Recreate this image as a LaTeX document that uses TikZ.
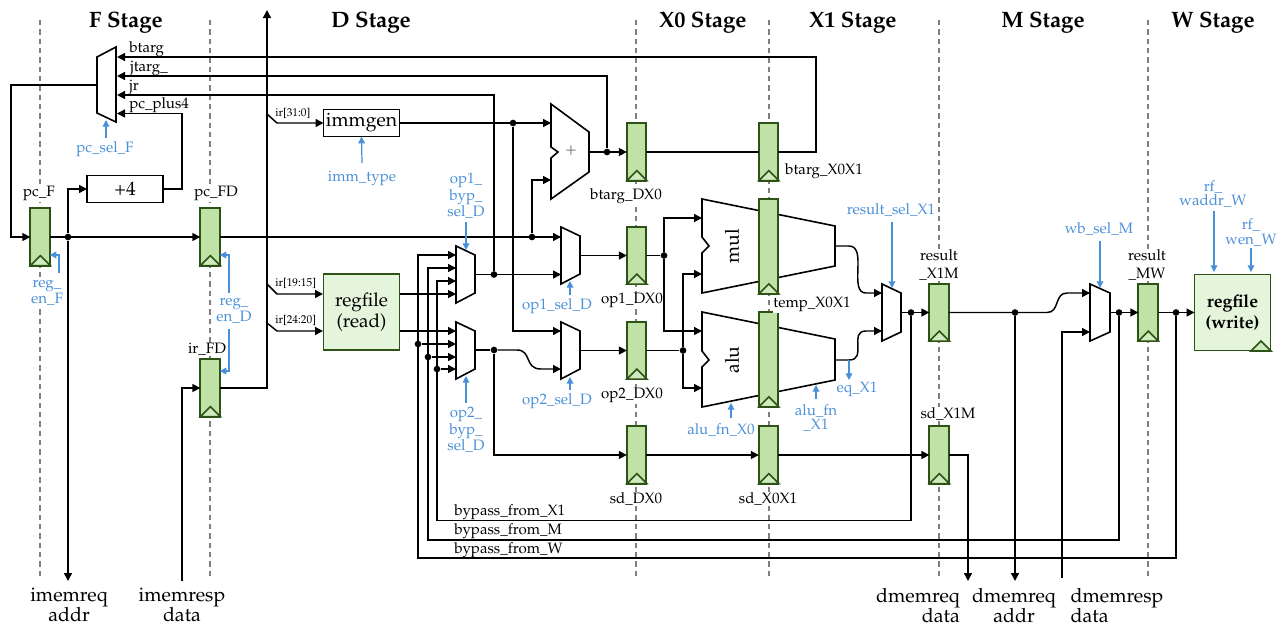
\documentclass[tikz,border=0pt]{standalone}
\usepackage[T1]{fontenc}
\usepackage{mathpazo}
\usetikzlibrary{arrows.meta}
\definecolor{regfill}{RGB}{192,226,167}
\definecolor{regline}{RGB}{44,82,22}
\definecolor{rffill}{RGB}{228,245,220}
\definecolor{ctrlblue}{RGB}{74,144,217}
\tikzset{
  wire/.style={line width=1.1pt},
  stagegrid/.style={gray,line width=0.9pt,dash pattern=on 4pt off 3pt},
  muxbox/.style={draw,fill=white,line width=1.2pt,line join=miter},
  reg/.style={draw=regline,fill=regfill,line width=1.4pt,minimum width=14.5pt,minimum height=43pt,inner sep=0,outer sep=0},
  tallreg/.style={reg,minimum height=71pt},
  clkmark/.style={draw=regline,fill=regfill!75!white,line width=1.2pt},
  rfbox/.style={draw=regline,fill=rffill,line width=1.3pt,minimum width=57pt,minimum height=57pt,inner sep=0,outer sep=0,align=center,font=\fontsize{14.2}{16}\selectfont},
  unitbox/.style={draw,fill=white,line width=1.2pt,minimum width=57pt,minimum height=20.5pt,inner sep=0,outer sep=0,font=\fontsize{14.5}{16}\selectfont},
  dot/.style={circle,fill=black,inner sep=0,minimum size=5pt},
  stagetext/.style={yshift=-1.2pt,font=\fontsize{16.7}{18}\selectfont\bfseries},
  sigtext/.style={yshift=-1.2pt,inner sep=0,font=\fontsize{11.3}{14}\selectfont},
  regtext/.style={sigtext,fill=white,inner sep=0.5pt,align=center},
  tinytext/.style={yshift=-0.6pt,inner sep=0,font=\fontsize{8.5}{10}\selectfont},
  ctrl/.style={yshift=-1.2pt,inner sep=0,text=ctrlblue,align=center,font=\fontsize{11.3}{11}\selectfont},
  ctrlwire/.style={draw=ctrlblue,line width=0.9pt,-{Triangle[length=5pt,width=5pt]}},
  memtext/.style={inner sep=0,font=\fontsize{14.7}{15}\selectfont},
}
\begin{document}
\begin{tikzpicture}[x=0.75pt,y=-0.75pt,>={Triangle[length=6pt,width=6pt]}]
\useasboundingbox (0,0) rectangle (1281,626);

% Stage boundaries
\foreach \x in {40,210,636,769,939,1148}
  \draw[stagegrid] (\x,20) -- (\x,578);

% Stage names
\node[stagetext] (stF) at (126,21) {F Stage};
\node[stagetext] (stD) at (371,21) {D Stage};
\node[stagetext] (stXa) at (703,21) {X0 Stage};
\node[stagetext] (stXb) at (853,21) {X1 Stage};
\node[stagetext] (stM) at (1043,21) {M Stage};
\node[stagetext] (stW) at (1213,21) {W Stage};

% Multiplier and alu, under the pipeline registers
\draw[muxbox] (702,199) -- (835,226) -- (835,266) -- (702,293) -- (702,253) -- (709,246) -- (702,237) -- cycle;
\draw[muxbox] (702,312) -- (835,339) -- (835,380) -- (702,407) -- (702,367) -- (709,360) -- (702,351) -- cycle;
\node[rotate=90,inner sep=0,font=\fontsize{14.5}{16}\selectfont] (mul) at (732,246) {mul};
\node[rotate=90,inner sep=0,font=\fontsize{14.5}{16}\selectfont] (alu) at (732,360) {alu};

% Adder
\draw[muxbox] (551,104) -- (589,132) -- (589,172) -- (551,199) -- (551,158) -- (558,152) -- (551,147) -- cycle;
\node[inner sep=0,text=gray,font=\fontsize{14}{15}\selectfont] (addplus) at (571,151) {+};

% Muxes
\draw[muxbox] (97,57) -- (116,47) -- (116,122) -- (97,113) -- cycle;
\draw[muxbox] (456,246) -- (475,255) -- (475,293) -- (456,303) -- cycle;
\draw[muxbox] (456,322) -- (475,331) -- (475,369) -- (456,379) -- cycle;
\draw[muxbox] (561,227) -- (580,236) -- (580,274) -- (561,284) -- cycle;
\draw[muxbox] (561,322) -- (580,331) -- (580,369) -- (561,379) -- cycle;
\draw[muxbox] (882,284) -- (901,293) -- (901,332) -- (882,341) -- cycle;
\draw[muxbox] (1090,284) -- (1110,293) -- (1110,332) -- (1090,341) -- cycle;

% Pipeline registers
\node[reg] (pcF) at (40,237) {};
\node[reg] (pcFD) at (210,237) {};
\node[reg] (irFD) at (210,388) {};
\node[reg] (btargDX) at (636.5,152) {};
\node[reg] (btargXX) at (768.5,152) {};
\node[reg] (opaDX) at (636.5,255.5) {};
\node[reg] (opbDX) at (636.5,350.5) {};
\node[reg] (sdDX) at (636.5,455) {};
\node[reg] (sdXX) at (768.5,455) {};
\node[tallreg] (tempa) at (768.5,246.5) {};
\node[tallreg] (tempb) at (768.5,359.5) {};
\node[reg] (resultXM) at (939,312.5) {};
\node[reg] (sdXM) at (939,455) {};
\node[reg] (resultMW) at (1148,312.5) {};

% Other units
\node[unitbox] (plusfour) at (125,189) {+4};
\node[unitbox] (immgen) at (361.5,123) {immgen};
\node[rfbox] (rfread) at (361.5,312) {regfile\\(read)};
\node[rfbox,font=\fontsize{13.3}{16}\selectfont\bfseries] (rfwrite) at (1232.5,312.5) {regfile\\(write)};

% Register names
\node[regtext] (lpcF) at (39,192) {pc\_F};
\node[regtext] (lpcFD) at (216,192) {pc\_FD};
\node[regtext] (lirFD) at (207,348) {ir\_FD};
\node[regtext] (lbtargDX) at (626,195) {btarg\_DX0};
\node[regtext] (lopaDX) at (632,299) {op1\_DX0};
\node[regtext] (lopbDX) at (632,394) {op2\_DX0};
\node[regtext] (lsdDX) at (636,497) {sd\_DX0};
\node[regtext] (lsdXX) at (768,497) {sd\_X0X1};
\node[regtext] (lbtargXX) at (824,170) {btarg\_X0X1};
\node[regtext] (ltemp) at (812,303) {temp\_X0X1};
\node[regtext] (lresultXM) at (939,263.5) {result\\\_X1M};
\node[regtext] (lsdXM) at (948,412) {sd\_X1M};
\node[regtext] (lresultMW) at (1147,263.5) {result\\\_MW};

% Signal names
\node[sigtext,anchor=west] (lbtarg) at (129,48) {btarg};
\node[sigtext,anchor=west] (ljtarg) at (130,67) {jtarg\_};
\node[sigtext,anchor=west] (ljr) at (129,86) {jr};
\node[sigtext,anchor=west] (lplus) at (129,104) {pc\_plus4};
\node[tinytext,anchor=west] (lira) at (275,113) {ir[31:0]};
\node[tinytext,anchor=west] (lirb) at (275,283) {ir[19:15]};
\node[tinytext,anchor=west] (lirc) at (275,320) {ir[24:20]};
\node[sigtext,anchor=west] (lbyX) at (454,511) {bypass\_from\_X1};
\node[sigtext,anchor=west] (lbyM) at (454,530) {bypass\_from\_M};
\node[sigtext,anchor=west] (lbyW) at (454,549) {bypass\_from\_W};

% Memory ports
\node[memtext,align=center] (limreq) at (69,605) {imemreq\\addr};
\node[memtext,align=center] (limresp) at (182,605) {imemresp\\data};
\node[memtext,align=right] (ldreqd) at (918,605) {dmemreq\\data};
\node[memtext,align=center] (ldreqa) at (1014,605) {dmemreq\\addr};
\node[memtext,align=left] (ldresp) at (1117,605) {dmemresp\\data};

% Control signal names
\node[ctrl] (cpcsel) at (105,148) {pc\_sel\_F};
\node[ctrl,fill=white] (cenF) at (47,291) {reg\_\\en\_F};
\node[ctrl] (cenD) at (234,309) {reg\_\\en\_D};
\node[ctrl] (cimm) at (362,177) {imm\_type};
\node[ctrl] (cbypa) at (466,194.5) {op1\_\\byp\_\\sel\_D};
\node[ctrl] (cbypb) at (466,428.5) {op2\_\\byp\_\\sel\_D};
\node[ctrl] (csela) at (557,305) {op1\_sel\_D};
\node[ctrl] (cselb) at (557,400) {op2\_sel\_D};
\node[ctrl] (cfna) at (721,428) {alu\_fn\_X0};
\node[ctrl] (cfnb) at (816,416.5) {alu\_fn\\\_X1};
\node[ctrl] (ceq) at (857,388) {eq\_X1};
\node[ctrl] (cres) at (891,208) {result\_sel\_X1};
\node[ctrl] (cwb) at (1099,227) {wb\_sel\_M};
\node[ctrl] (cwaddr) at (1213,192.5) {rf\_\\waddr\_W};
\node[ctrl] (cwen) at (1251,231) {rf\_\\wen\_W};

% Junctions
\node[dot] (jpcF) at (68,237) {};
\node[dot] (jpcD) at (532,237) {};
\node[dot] (jimm) at (513,123) {};
\node[dot] (jbtarg) at (607,152) {};
\node[dot] (jopa) at (494,274.5) {};
\node[dot] (jopb) at (494,350) {};
\node[dot] (jW) at (418,344) {};
\node[dot] (jM) at (428,357) {};
\node[dot] (jX) at (437,369) {};
\node[dot] (jopaD) at (664,255.5) {};
\node[dot] (jopbD) at (683,350.5) {};
\node[dot] (jres) at (911,312.5) {};
\node[dot] (jdmem) at (1015,312.5) {};
\node[dot] (jwb) at (1119,312.5) {};
\node[dot] (jrf) at (1176,312.5) {};

% Ports
\coordinate (pcmuxO) at (97,85);
\coordinate (pcmuxA) at (117,57);
\coordinate (pcmuxB) at (117,76);
\coordinate (pcmuxC) at (117,95);
\coordinate (pcmuxD) at (117,113.5);
\coordinate (pcback) at (11,85);
\coordinate (imemaddr) at (68,581);
\coordinate (imemdata) at (182,581);
\coordinate (plustop) at (182,113.5);
\coordinate (bustop) at (267,10);
\coordinate (btargtop) at (816,57);
\coordinate (btargbot) at (816,152);
\coordinate (addA) at (551,123);
\coordinate (addB) at (551,180);
\coordinate (addO) at (589,152);
\coordinate (iraS) at (267,114);
\coordinate (iraB) at (277,123);
\coordinate (irbS) at (267,284);
\coordinate (irbB) at (277,294);
\coordinate (ircS) at (267,323);
\coordinate (ircB) at (277,331);
\coordinate (rfinA) at (323,294);
\coordinate (rfinB) at (323,331);
\coordinate (rfoutA) at (400,294);
\coordinate (rfoutB) at (400,331);
\coordinate (bypaA) at (456,255);
\coordinate (bypaB) at (456,268);
\coordinate (bypaC) at (456,281);
\coordinate (bypaD) at (456,294);
\coordinate (bypaO) at (475,274.5);
\coordinate (bypbA) at (456,331);
\coordinate (bypbB) at (456,344);
\coordinate (bypbC) at (456,357);
\coordinate (bypbD) at (456,369);
\coordinate (bypbO) at (475,350);
\coordinate (selaA) at (561,237);
\coordinate (selaB) at (561,274.5);
\coordinate (selaO) at (580,255.5);
\coordinate (selbA) at (561,331);
\coordinate (selbB) at (561,369);
\coordinate (selbO) at (580,350.5);
\coordinate (mulA) at (702,218);
\coordinate (mulB) at (702,274);
\coordinate (aluA) at (702,331);
\coordinate (aluB) at (702,388);
\coordinate (mulO) at (835,246);
\coordinate (aluO) at (835,360);
\coordinate (resA) at (882,293);
\coordinate (resB) at (882,331);
\coordinate (resO) at (901,312.5);
\coordinate (wbA) at (1090,293);
\coordinate (wbB) at (1090,332);
\coordinate (wbO) at (1110,312.5);
\coordinate (dmemaddr) at (1015,581);
\coordinate (dmemresp) at (1062,578);
\coordinate (dmemdata) at (968,581);
\coordinate (sdcorner) at (968,455);

% Fetch stage
\draw[wire,->] (pcmuxO) -- (pcback) |- (pcF.west);
\draw[wire,->] (pcF.east) -- (pcFD.west);
\draw[wire,->] (jpcF) |- (plusfour.west);
\draw[wire,->] (jpcF) -- (imemaddr);
\draw[wire,->] (plusfour.east) -| (plustop) -- (pcmuxD);
\draw[wire,->] (imemdata) |- (irFD.west);

% Decode stage
\draw[wire,->] (irFD.east) -| (bustop);
\draw[wire,->] (iraS) -- (iraB) -- (immgen.west);
\draw[wire,->] (irbS) -- (irbB) -- (rfinA);
\draw[wire,->] (ircS) -- (ircB) -- (rfinB);
\draw[wire,->] (immgen.east) -- (addA);
\draw[wire,->] (jimm) |- (selbA);
\draw[wire,->] (pcFD.east) -- (selaA);
\draw[wire,->] (jpcD) |- (addB);
\draw[wire,->] (rfoutA) -- (bypaD);
\draw[wire,->] (rfoutB) -- (bypbA);
\draw[wire,->] (bypaO) -- (selaB);
\draw[wire] (bypbO) -- (jopb);
\draw[wire,->] (jopb) -- (517,350) .. controls (532,350) and (524,369) .. (541,369) -- (selbB);
\draw[wire,->] (jopb) |- (sdDX.west);
\draw[wire,->] (selaO) -- (opaDX.west);
\draw[wire,->] (selbO) -- (opbDX.west);

% Branch targets back to the pc mux
\draw[wire,->] (addO) -- (btargDX.west);
\draw[wire] (btargDX.east) -- (btargXX.west);
\draw[wire,->] (btargXX.east) -- (btargbot) -- (btargtop) -- (pcmuxA);
\draw[wire,->] (jbtarg) |- (pcmuxB);
\draw[wire,->] (jopa) |- (pcmuxC);

% Execute stages
\draw[wire,->] (jopaD) |- (mulA);
\draw[wire,->] (jopaD) |- (aluA);
\draw[wire,->] (jopbD) |- (mulB);
\draw[wire,->] (jopbD) |- (aluB);
\draw[wire] (opaDX.east) -- (jopaD);
\draw[wire] (opbDX.east) -- (jopbD);
\draw[wire,->] (mulO) -- (849,246) .. controls (868,246) and (848,293) .. (866,293) -- (resA);
\draw[wire,->] (aluO) -- (849,360) .. controls (868,360) and (848,331) .. (866,331) -- (resB);
\draw[wire,->] (resO) -- (resultXM.west);
\draw[wire,->] (sdDX.east) -- (sdXX.west);
\draw[wire,->] (sdXX.east) -- (sdXM.west);
\draw[wire,->] (sdXM.east) -- (sdcorner) -- (dmemdata);

% Memory and writeback stages
\draw[wire,->] (resultXM.east) -- (1047,312.5) .. controls (1060,312.5) and (1054,293) .. (1067,293) -- (wbA);
\draw[wire,->] (jdmem) -- (dmemaddr);
\draw[wire,->] (dmemresp) |- (wbB);
\draw[wire,->] (wbO) -- (resultMW.west);
\draw[wire,->] (resultMW.east) -- (rfwrite.west);

% Bypass paths
\draw[wire,->] (jres) |- (437,520.5) |- (bypaC);
\draw[wire,->] (jwb) |- (428,540) |- (bypaB);
\draw[wire,->] (jrf) |- (418,558) |- (bypaA);
\draw[wire,->] (jW) -- (bypbB);
\draw[wire,->] (jM) -- (bypbC);
\draw[wire,->] (jX) -- (bypbD);

% Control signals
\draw[ctrlwire] (106,138) -- (106,120);
\draw[ctrlwire] (59,273) |- (pcF.east |- 59,255);
\draw[ctrlwire] (229,293) |- (pcFD.east |- 229,255);
\draw[ctrlwire] (229,329) |- (irFD.east |- 229,371);
\draw[ctrlwire] (362,163) -- (immgen.south);
\draw[ctrlwire] (466,222) -- (466,250);
\draw[ctrlwire] (466,403) -- (466,376);
\draw[ctrlwire] (570,295) -- (570,281);
\draw[ctrlwire] (570,390) -- (570,377);
\draw[ctrlwire] (731,418) -- (731,403);
\draw[ctrlwire] (816,399) -- (816,385);
\draw[ctrlwire] (849,360) -- (849,380);
\draw[ctrlwire] (892,222) -- (892,288);
\draw[ctrlwire] (1100,241) -- (1100,288);
\draw[ctrlwire] (1214,211) -- (1214,272);
\draw[ctrlwire] (1251,248) -- (1251,272);

% Clock marks
\foreach \r in {pcF,pcFD,irFD,btargDX,btargXX,opaDX,opbDX,sdDX,sdXX,tempa,tempb,resultXM,sdXM,resultMW}
  \draw[clkmark] (\r.south west) -- ++(10,-10) -- ++(10,10) -- cycle;
\draw[clkmark] (1251,351) -- (1261,341) -- (1271,351) -- cycle;
\end{tikzpicture}
\end{document}
